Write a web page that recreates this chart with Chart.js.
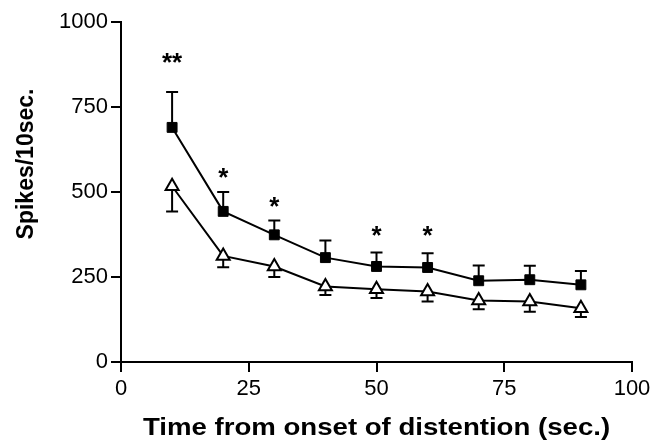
<!DOCTYPE html>
<html>
<head>
<meta charset="utf-8">
<script src="https://cdn.jsdelivr.net/npm/chart.js@4"></script>
<style>
  html, body { margin: 0; padding: 0; background: #fff; }
  #wrap { width: 665px; height: 445px; position: relative; }
</style>
</head>
<body>
<div id="wrap"><canvas id="chart"></canvas></div>
<script>
// temps (s) depuis le début de la distension
const times = [10, 20, 30, 40, 50, 60, 70, 80, 90];

// série carrés pleins (moyenne + erreur vers le haut)
const distMean = [690, 443, 374, 307, 281, 278, 239, 242, 227];
const distErr  = [104, 57, 42, 50, 41, 42, 45, 41, 41];

// série triangles ouverts (moyenne + erreur vers le bas)
const ctrlMean = [517, 312, 281, 222, 214, 207, 181, 178, 158];
const ctrlErr  = [74, 33, 31, 25, 26, 29, 26, 30, 26];

// étoiles de significativité
const sigX     = [10, 20, 30, 50, 60];
const sigY     = [895, 557, 470, 385, 385];
const sigLabel = ["**", "*", "*", "*", "*"];

const yTicks = [0, 250, 500, 750, 1000];
const xTicks = [0, 25, 50, 75, 100];

const FONT = "'Liberation Sans', Arial, sans-serif";

const errorBars = {
  id: "errorBars",
  beforeDatasetsDraw(chart) {
    const { ctx, scales: { x, y } } = chart;
    ctx.save();
    ctx.strokeStyle = "#000";
    ctx.lineWidth = 2;
    const bars = [[distMean, distErr, -1], [ctrlMean, ctrlErr, 1]];
    bars.forEach(([mean, err, dir]) => {
      times.forEach((t, i) => {
        const px = x.getPixelForValue(t);
        const y0 = y.getPixelForValue(mean[i]);
        const y1 = y.getPixelForValue(mean[i] - dir * err[i]);
        ctx.beginPath();
        ctx.moveTo(px, y0);
        ctx.lineTo(px, y1);
        ctx.moveTo(px - 6, y1);
        ctx.lineTo(px + 6, y1);
        ctx.stroke();
      });
    });
    ctx.restore();
  }
};

const annotations = {
  id: "annotations",
  afterDraw(chart) {
    const { ctx, chartArea, scales: { x, y } } = chart;
    ctx.save();
    ctx.fillStyle = "#000";
    ctx.font = "bold 26px " + FONT;
    ctx.textAlign = "center";
    ctx.textBaseline = "middle";
    sigX.forEach((t, i) => {
      ctx.fillText(sigLabel[i], x.getPixelForValue(t), y.getPixelForValue(sigY[i]) + 6);
    });
    ctx.font = "bold 23px " + FONT;
    // titre de l'axe X (police un peu étirée comme l'original)
    ctx.save();
    ctx.translate((chartArea.left + chartArea.right) / 2, 429);
    ctx.scale(1.2, 1);
    ctx.fillText("Time from onset of distention (sec.)", 0, 0);
    ctx.restore();
    // titre de l'axe Y
    ctx.translate(27, 164);
    ctx.rotate(-Math.PI / 2);
    ctx.fillText("Spikes/10sec.", 0, 0);
    ctx.restore();
  }
};

new Chart(document.getElementById("chart"), {
  type: "line",
  data: {
    datasets: [
      {
        label: "distension",
        data: times.map((t, i) => ({ x: t, y: distMean[i] })),
        borderColor: "#000",
        backgroundColor: "#000",
        borderWidth: 2,
        pointStyle: "rect",
        pointRadius: 7,
        pointBorderWidth: 1,
        tension: 0,
        order: 2,
      },
      {
        label: "contrôle",
        data: times.map((t, i) => ({ x: t, y: ctrlMean[i] })),
        borderColor: "#000",
        backgroundColor: "#fff",
        borderWidth: 2,
        pointStyle: "triangle",
        pointRadius: 7.5,
        pointBorderWidth: 2,
        pointBackgroundColor: "#fff",
        tension: 0,
        order: 1,
      },
    ],
  },
  options: {
    responsive: true,
    maintainAspectRatio: false,
    animation: false,
    layout: { padding: { top: 22, right: 33, left: 0, bottom: 0 } },
    plugins: { legend: { display: false }, tooltip: { enabled: false } },
    scales: {
      x: {
        type: "linear",
        min: 0, max: 100,
        afterBuildTicks: s => { s.ticks = xTicks.map(v => ({ value: v })); },
        afterFit: s => { s.height = 83; },
        grid: { display: true, drawOnChartArea: false, drawTicks: true, tickLength: 10, color: "#000", lineWidth: 2 },
        border: { color: "#000", width: 2 },
        ticks: { color: "#000", font: { family: FONT, size: 22 }, padding: 4, maxRotation: 0,
                 callback: v => String(v) },
      },
      y: {
        min: 0, max: 1000,
        afterBuildTicks: s => { s.ticks = yTicks.map(v => ({ value: v })); },
        afterFit: s => { s.width = 121; },
        grid: { display: true, drawOnChartArea: false, drawTicks: true, tickLength: 10, color: "#000", lineWidth: 2 },
        border: { color: "#000", width: 2 },
        ticks: { color: "#000", font: { family: FONT, size: 22 }, padding: 3,
                 callback: v => String(v) },
      },
    },
  },
  plugins: [errorBars, annotations],
});
</script>
</body>
</html>
